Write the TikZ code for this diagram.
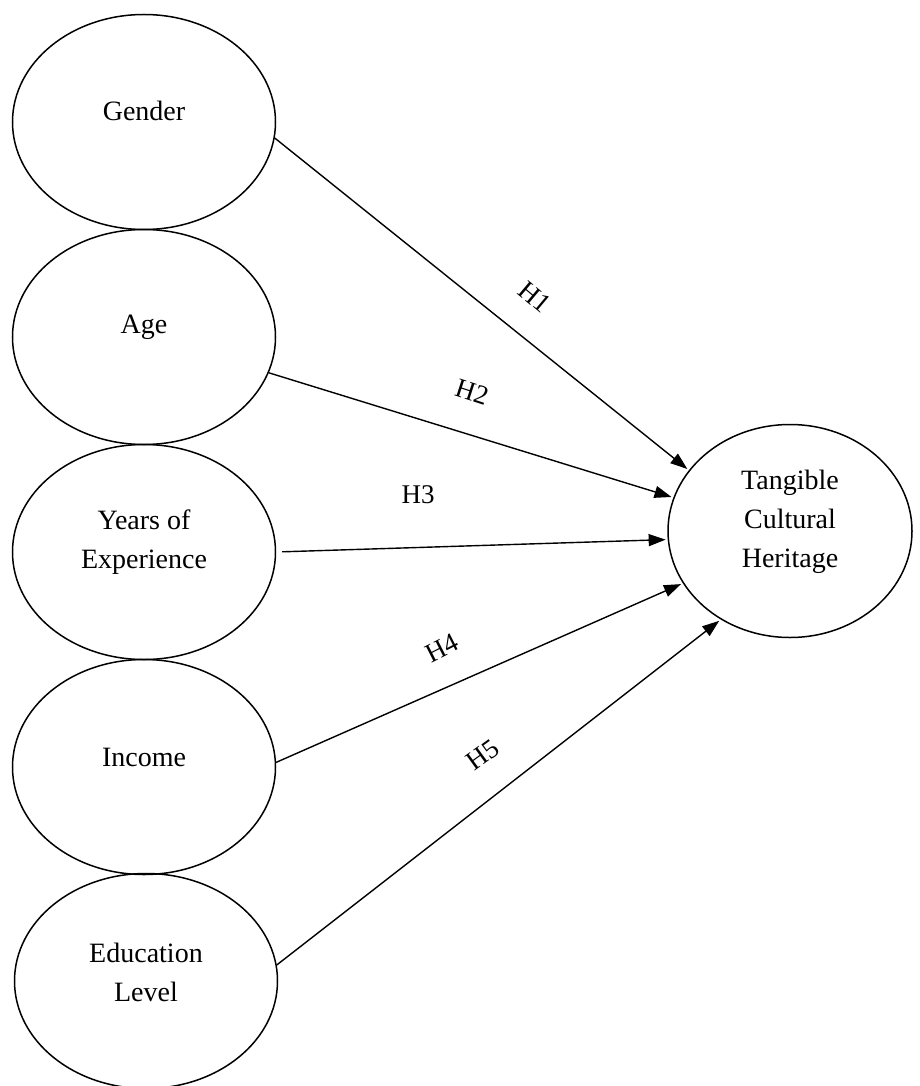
\documentclass[tikz,border=0pt]{standalone}
\usepackage{fontspec}
\setmainfont{Liberation Serif}
\usetikzlibrary{shapes.geometric,arrows.meta}
\begin{document}
\begin{tikzpicture}[x=1pt,y=-1pt,
  var/.style={ellipse,draw,line width=1.5pt,minimum width=263pt,minimum height=215pt,inner sep=0pt},
  lbl/.style={font=\fontsize{28}{39}\selectfont,align=center,inner sep=0pt},
  hyp/.style={line width=1.4pt,-{Triangle[length=17pt,width=12pt]},shorten >=2pt},
  hl/.style={font=\fontsize{27}{32}\selectfont,inner sep=0pt}]
\useasboundingbox (0,0) rectangle (920,1086);
% left variables
\node[var] (gender) at (144,122) {};
\node[lbl] (tgender) at (144,111) {Gender};
\node[var] (age) at (144,337) {};
\node[lbl] (tage) at (144,327) {Age};
\node[var] (yoe) at (144,552) {};
\node[lbl] (tyoe) at (144,542) {Years of\\Experience};
\node[var] (income) at (144,767) {};
\node[lbl] (tincome) at (144,757) {Income};
\node[var] (edu) at (146,981) {};
\node[lbl] (tedu) at (146,972) {Education\\Level};
% outcome
\node[var,minimum width=244pt,minimum height=213pt] (tch) at (790,531) {};
\node[lbl] (ttch) at (790,522) {Tangible\\Cultural\\Heritage};
% hypotheses
\draw[hyp] (gender.-7) -- (tch.149);
\draw[hyp] (age.-16) -- (tch.164);
\draw[hyp,shorten <=6pt] (yoe.0) -- (tch.184);
\draw[hyp] (income.2) -- (tch.206);
\draw[hyp] (edu.7) -- (tch.232);
% labels
\node[hl,rotate=-40] (h1) at (535,297) {H1};
\node[hl,rotate=-18] (h2) at (472,392) {H2};
\node[hl] (h3) at (418,495) {H3};
\node[hl,rotate=27] (h4) at (442,648) {H4};
\node[hl,rotate=36] (h5) at (483,755) {H5};
\end{tikzpicture}
\end{document}
